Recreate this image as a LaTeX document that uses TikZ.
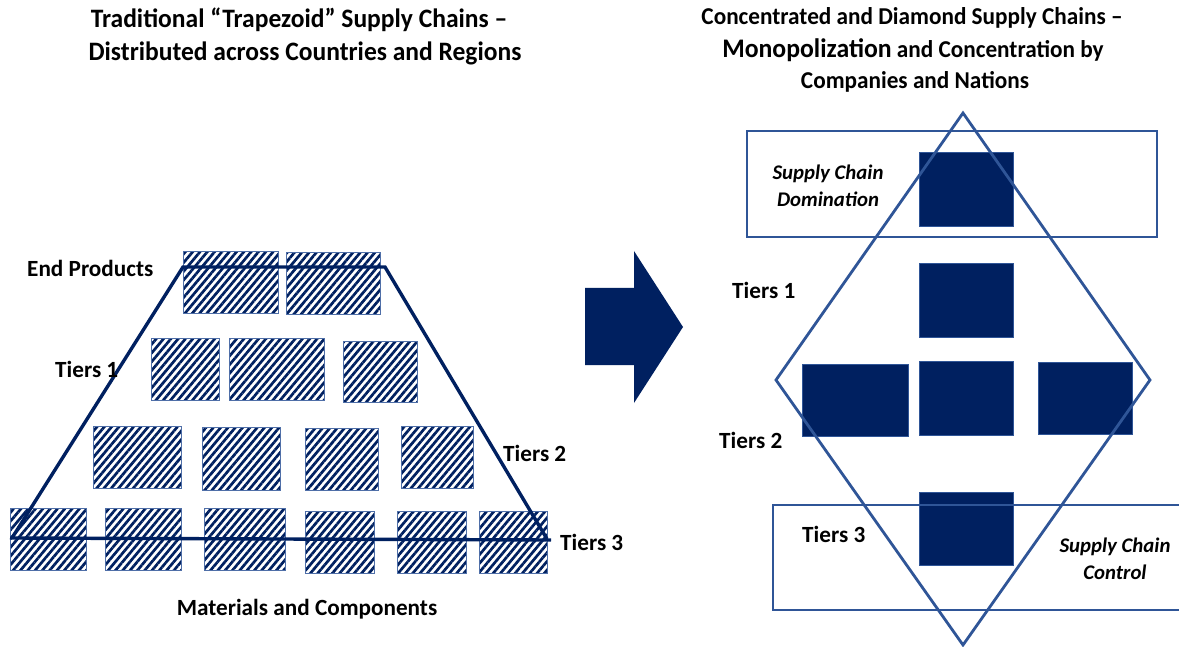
\documentclass[tikz,border=0pt]{standalone}
\usepackage{fontspec}
\setmainfont{Carlito}
\newfontfamily\headfont{Carlito}[FakeStretch=0.96]
\usetikzlibrary{patterns.meta}

\definecolor{navy}{HTML}{002060}
\definecolor{frameblue}{HTML}{2F5597}
\definecolor{hatchedge}{HTML}{4F6FA8}

\tikzset{
  hbox/.style={draw=hatchedge, line width=0.9pt, anchor=north west, inner sep=0pt,
    pattern={Lines[angle=50,distance=5.6pt,line width=2.7pt]}, pattern color=navy},
  dbox/.style={fill=navy, draw=frameblue, line width=0.6pt, anchor=north west, inner sep=0pt},
  trapline/.style={draw=navy, line width=3.4pt, line join=miter},
  frame/.style={draw=frameblue, line width=2.8pt},
  lbl/.style={font=\bfseries\fontsize{23.2}{27}\selectfont, inner sep=0pt, text=black},
  ilbl/.style={font=\bfseries\itshape\fontsize{20.8}{27}\selectfont, inner sep=0pt, align=center, text=black},
  head/.style={font=\headfont\bfseries\fontsize{26.6}{33}\selectfont, inner sep=0pt, align=center, text=black},
  smallhead/.style={font=\headfont\bfseries\fontsize{24.2}{33}\selectfont, inner sep=0pt, align=center, text=black},
}

\begin{document}
\begin{tikzpicture}[x=1pt,y=-1pt]
\useasboundingbox (0,0) rectangle (1179,647);

% ---------- left: trapezoid supply chain ----------
\node[head] (lt1) at (299,20) {Traditional “Trapezoid” Supply Chains –};
\node[head] (lt2) at (305,53) {Distributed across Countries and Regions};

% end products
\node[hbox, minimum width=95, minimum height=62] (e1) at (182,250) {};
\node[hbox, minimum width=94, minimum height=62] (e2) at (286,252) {};
% tier 1
\node[hbox, minimum width=68, minimum height=62] (t1a) at (151,338) {};
\node[hbox, minimum width=95, minimum height=62] (t1b) at (229,338) {};
\node[hbox, minimum width=74, minimum height=61] (t1c) at (343,341) {};
% tier 2
\node[hbox, minimum width=88, minimum height=62] (t2a) at (93,426) {};
\node[hbox, minimum width=78, minimum height=63] (t2b) at (202,427) {};
\node[hbox, minimum width=73, minimum height=62] (t2c) at (305,428) {};
\node[hbox, minimum width=72, minimum height=62] (t2d) at (401,426) {};
% tier 3
\node[hbox, minimum width=76, minimum height=62] (t3a) at (10,508) {};
\node[hbox, minimum width=76, minimum height=62] (t3b) at (105,508) {};
\node[hbox, minimum width=81, minimum height=62] (t3c) at (204,508) {};
\node[hbox, minimum width=69, minimum height=62] (t3d) at (305,511) {};
\node[hbox, minimum width=69, minimum height=62] (t3e) at (397,511) {};
\node[hbox, minimum width=68, minimum height=62] (t3f) at (479,511) {};

% trapezoid outline
\coordinate (tl) at (183,267);
\coordinate (tr) at (385,267);
\coordinate (br) at (547,539);
\coordinate (bl) at (12,538);
\coordinate (bl0) at (10,538);
\coordinate (br0) at (551,540);
\path[trapline] (bl) -- (tl) -- (tr) -- (br);
\path[trapline] (bl0) -- (br0);

\node[lbl, anchor=west] (lep) at (27,268) {End Products};
\node[lbl, anchor=west] (lt1l) at (55,369) {Tiers 1};
\node[lbl, anchor=west] (lt2l) at (503,453) {Tiers 2};
\node[lbl, anchor=west] (lt3l) at (560,542) {Tiers 3};
\node[lbl] (lmat) at (307,609) {Materials and Components};

% ---------- transition arrow ----------
\fill[navy] (585,288) -- (634,288) -- (634,251) -- (683,327) -- (634,403) -- (634,365) -- (585,365) -- cycle;

% ---------- right: diamond supply chain ----------
\node[smallhead] (rt1) at (912,18) {Concentrated and Diamond Supply Chains –};
\node[smallhead] (rt2) at (913,50) {{\fontsize{26.8}{33}\selectfont Monopolization} and Concentration by};
\node[smallhead] (rt3) at (915,82) {Companies and Nations};

\node[dbox, minimum width=94, minimum height=74] (d0) at (919,152) {};
\node[dbox, minimum width=94, minimum height=74] (d1) at (919,263) {};
\node[dbox, minimum width=106, minimum height=72] (d2a) at (802,364) {};
\node[dbox, minimum width=94, minimum height=74] (d2b) at (919,361) {};
\node[dbox, minimum width=94, minimum height=72] (d2c) at (1038,362) {};
\node[dbox, minimum width=94, minimum height=73] (d3) at (919,492) {};

\coordinate (dt) at (963,113);
\coordinate (dr) at (1150,380);
\coordinate (db) at (963,645);
\coordinate (dl) at (776,380);
\path[frame, line join=miter] (dt) -- (dr) -- (db) -- (dl) -- cycle;

\coordinate (ra1) at (747,131);
\coordinate (ra2) at (1157,237);
\path[frame] (ra1) rectangle (ra2);
\coordinate (rb1) at (1182,505);
\coordinate (rb2) at (773,505);
\coordinate (rb3) at (773,610);
\coordinate (rb4) at (1182,610);
\path[frame] (rb1) -- (rb2) -- (rb3) -- (rb4);

\node[ilbl] (rdom) at (828,186) {Supply Chain\\Domination};
\node[lbl, anchor=west] (rt1l) at (732,290) {Tiers 1};
\node[lbl, anchor=west] (rt2l) at (719,440) {Tiers 2};
\node[lbl, anchor=west] (rt3l) at (802,534) {Tiers 3};
\node[ilbl] (rctl) at (1115,559) {Supply Chain\\Control};
\end{tikzpicture}
\end{document}
